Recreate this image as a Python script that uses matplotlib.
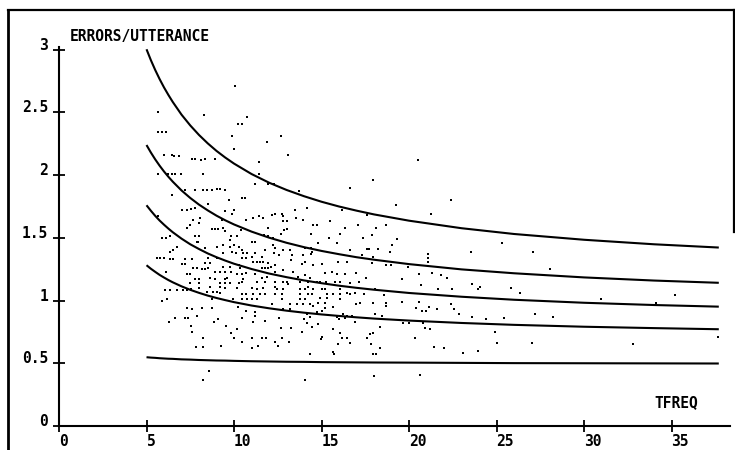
import numpy as np
import matplotlib
matplotlib.use("Agg")
import matplotlib.pyplot as plt
from matplotlib.lines import Line2D

# ---------------- data ----------------
x_ticks = [0, 5, 10, 15, 20, 25, 30, 35]
x_tick_labels = ["0", "5", "10", "15", "20", "25", "30", "35"]
y_ticks = [0, 0.5, 1, 1.5, 2, 2.5, 3]
y_tick_labels = ["0", "0.5", "1", "1.5", "2", "2.5", "3"]

curve_x = [5, 5.25, 5.5, 5.75, 6, 6.25, 6.5, 7, 7.5, 8, 8.5, 9, 9.5, 10, 11, 12, 13, 14,
           15, 16, 17, 18, 20, 23, 26, 30, 34, 37.7]
curve_1 = [3.002, 2.915, 2.836, 2.764, 2.698, 2.638, 2.582, 2.481, 2.395, 2.319, 2.252, 2.192, 2.139, 2.091,
           2.008, 1.939, 1.881, 1.831, 1.787, 1.749, 1.716, 1.686, 1.636, 1.576, 1.530, 1.484, 1.448, 1.422]
curve_2 = [2.239, 2.179, 2.124, 2.074, 2.028, 1.986, 1.947, 1.877, 1.817, 1.764, 1.718, 1.676, 1.639, 1.606,
           1.549, 1.501, 1.460, 1.425, 1.395, 1.369, 1.345, 1.325, 1.290, 1.248, 1.217, 1.184, 1.159, 1.141]
curve_3 = [1.759, 1.715, 1.674, 1.637, 1.604, 1.573, 1.544, 1.493, 1.448, 1.410, 1.375, 1.345, 1.318, 1.293,
           1.251, 1.215, 1.186, 1.160, 1.138, 1.118, 1.101, 1.086, 1.060, 1.030, 1.006, 0.982, 0.964, 0.951]
curve_4 = [1.281, 1.253, 1.228, 1.204, 1.183, 1.163, 1.145, 1.113, 1.085, 1.061, 1.039, 1.020, 1.003, 0.987,
           0.960, 0.938, 0.919, 0.903, 0.889, 0.877, 0.866, 0.856, 0.840, 0.821, 0.806, 0.791, 0.780, 0.771]
curve_5 = [0.548, 0.545, 0.543, 0.540, 0.538, 0.536, 0.535, 0.531, 0.529, 0.526, 0.524, 0.522, 0.521, 0.519,
           0.516, 0.514, 0.512, 0.511, 0.509, 0.508, 0.507, 0.506, 0.505, 0.503, 0.501, 0.500, 0.499, 0.498]

scatter_points = [
    (10.06, 2.71),
    (5.67, 2.50), (8.29, 2.48), (10.72, 2.46), (10.21, 2.41), (10.44, 2.41), (5.67, 2.34), (5.87, 2.34),
    (6.11, 2.34), (9.87, 2.31), (12.67, 2.31), (11.87, 2.26), (10.02, 2.21), (13.07, 2.16), (6.0, 2.16),
    (6.47, 2.16), (6.57, 2.15), (6.87, 2.15), (7.58, 2.13), (7.77, 2.13), (8.11, 2.12), (8.34, 2.13),
    (8.91, 2.13), (11.45, 2.10), (11.45, 2.01), (5.67, 2.01), (6.25, 2.01), (6.44, 2.01), (6.63, 2.01),
    (6.95, 2.01), (8.21, 2.01), (11.2, 1.93), (11.92, 1.93), (12.29, 1.93),
    # right part
    (20.53, 2.12), (17.96, 1.96), (16.6, 1.90), (22.4, 1.80), (19.26, 1.76), (21.27, 1.69), (17.58, 1.68),
    (17.1, 1.60), (18.11, 1.58), (18.66, 1.60), (17.39, 1.50), (17.9, 1.52), (19.3, 1.49), (19.03, 1.44),
    (25.31, 1.46), (17.58, 1.41), (17.73, 1.41), (18.25, 1.41), (18.93, 1.39), (23.56, 1.39), (27.09, 1.39),
    (17.31, 1.36), (17.96, 1.35), (21.07, 1.37), (21.07, 1.34), (21.1, 1.31), (17.9, 1.30), (18.7, 1.28),
    (18.99, 1.28), (19.92, 1.27), (28.07, 1.25), (20.57, 1.21), (21.31, 1.22), (21.81, 1.20), (22.15, 1.18),
    (16.95, 1.22), (17.54, 1.18), (16.63, 1.14), (17.16, 1.15), (19.58, 1.17), (23.6, 1.13), (23.94, 1.09),
    (24.06, 1.11), (25.85, 1.10), (26.34, 1.06), (18.06, 1.09), (18.57, 1.04), (20.69, 1.12), (21.66, 1.09),
    (22.47, 1.09), (17.45, 1.05), (30.99, 1.01), (35.22, 1.04), (34.11, 0.98), (16.97, 0.97), (17.2, 0.98),
    (17.96, 0.98), (18.69, 0.98), (18.69, 0.96), (19.58, 0.99), (20.59, 0.99), (20.4, 0.94), (20.73, 0.92),
    (20.97, 0.92), (21.16, 0.95), (21.58, 0.93), (22.4, 0.97), (22.59, 0.93), (22.87, 0.89), (23.58, 0.87),
    (24.4, 0.85), (25.43, 0.86), (27.22, 0.89), (28.25, 0.87), (18.06, 0.89), (18.47, 0.88), (16.91, 0.83),
    (19.68, 0.82), (20.0, 0.82), (20.78, 0.82), (18.34, 0.79), (17.96, 0.74), (17.77, 0.73), (17.58, 0.70),
    (20.91, 0.78), (21.2, 0.77), (24.93, 0.75), (20.34, 0.70), (37.68, 0.71), (16.63, 0.66), (17.83, 0.65),
    (18.34, 0.62), (17.92, 0.57), (18.11, 0.57), (21.45, 0.63), (22.0, 0.62), (23.07, 0.58), (23.96, 0.60),
    (25.01, 0.66), (27.01, 0.66), (32.82, 0.65), (18.02, 0.40), (20.65, 0.41),
    # left dense block (upper)
    (7.2, 1.88), (7.77, 1.88), (8.25, 1.88), (8.44, 1.88), (8.72, 1.88), (9.0, 1.89), (9.2, 1.89), (9.49, 1.88),
    (6.44, 1.84), (9.73, 1.80), (10.44, 1.82), (10.63, 1.82), (8.53, 1.77), (7.01, 1.72), (7.3, 1.72),
    (7.52, 1.73), (7.77, 1.74), (9.49, 1.71), (10.0, 1.72), (9.87, 1.69), (5.67, 1.67), (7.67, 1.64),
    (8.06, 1.66), (8.02, 1.62), (9.3, 1.64), (10.69, 1.64), (7.49, 1.60), (7.3, 1.58), (8.72, 1.57),
    (8.91, 1.57), (9.1, 1.57), (9.35, 1.58), (9.49, 1.55), (9.83, 1.51), (10.15, 1.51), (10.38, 1.56),
    (7.77, 1.51), (8.02, 1.51), (5.87, 1.50), (6.11, 1.50), (6.34, 1.51), (7.87, 1.47), (7.96, 1.47),
    (9.01, 1.43), (9.35, 1.44), (9.77, 1.48), (9.77, 1.43), (10.0, 1.44), (10.29, 1.43), (10.44, 1.40),
    (6.76, 1.43), (6.53, 1.40), (8.34, 1.42), (6.34, 1.39), (9.35, 1.38), (9.87, 1.39), (10.11, 1.38),
    (10.53, 1.38), (10.76, 1.38), (5.58, 1.34), (5.77, 1.34), (6.0, 1.34), (6.34, 1.33), (6.53, 1.33),
    (7.2, 1.33), (7.58, 1.33), (8.53, 1.34), (9.01, 1.34), (10.44, 1.34), (10.69, 1.34), (7.01, 1.29),
    (7.2, 1.29), (8.34, 1.30), (8.63, 1.30), (9.39, 1.27), (9.77, 1.27), (10.3, 1.28), (10.34, 1.26),
    (7.63, 1.26), (7.87, 1.26), (8.15, 1.25), (8.34, 1.25), (8.53, 1.26), (8.91, 1.23), (9.2, 1.23),
    (9.49, 1.23), (9.81, 1.23), (6.11, 1.23), (7.3, 1.21), (7.49, 1.21), (10.15, 1.21), (10.44, 1.21),
    (10.69, 1.22), (7.77, 1.17), (8.02, 1.17), (8.63, 1.18), (8.91, 1.17), (9.49, 1.17), (9.62, 1.18),
    (10.53, 1.17), (7.49, 1.14), (8.02, 1.14), (9.2, 1.14), (9.49, 1.14), (9.77, 1.14), (10.3, 1.14),
    (10.44, 1.15),
    # middle dense block (upper)
    (13.73, 1.87), (14.15, 1.74), (13.49, 1.72), (16.15, 1.72), (11.1, 1.66), (11.45, 1.67), (11.64, 1.66),
    (12.15, 1.68), (12.34, 1.69), (12.72, 1.69), (12.82, 1.67), (13.54, 1.66), (13.96, 1.64), (15.49, 1.63),
    (12.78, 1.63), (13.01, 1.63), (11.92, 1.58), (14.53, 1.60), (14.72, 1.60), (16.34, 1.58), (12.86, 1.56),
    (13.01, 1.57), (12.67, 1.53), (14.38, 1.53), (16.06, 1.53), (15.43, 1.50), (11.73, 1.52), (11.92, 1.51),
    (12.21, 1.50), (14.82, 1.46), (15.87, 1.46), (11.01, 1.47), (11.2, 1.47), (12.25, 1.44), (12.34, 1.42),
    (11.77, 1.40), (12.82, 1.40), (13.2, 1.40), (14.06, 1.42), (14.4, 1.42), (14.44, 1.39), (14.4, 1.37),
    (16.63, 1.40), (11.2, 1.38), (11.58, 1.35), (11.01, 1.35), (12.29, 1.38), (12.59, 1.36), (13.3, 1.36),
    (13.96, 1.36), (15.96, 1.31), (16.44, 1.31), (11.1, 1.31), (11.3, 1.31), (11.49, 1.31), (11.67, 1.31),
    (11.96, 1.30), (12.1, 1.27), (12.34, 1.28), (13.24, 1.32), (13.87, 1.29), (14.06, 1.31), (14.53, 1.28),
    (15.01, 1.29), (11.58, 1.26), (11.77, 1.26), (11.96, 1.26), (12.34, 1.23), (12.82, 1.24), (13.39, 1.23),
    (15.2, 1.22), (15.58, 1.23), (15.9, 1.21), (16.34, 1.21), (11.2, 1.21), (11.58, 1.18), (11.87, 1.19),
    (13.67, 1.19), (14.06, 1.20), (14.34, 1.18), (11.3, 1.15), (11.77, 1.15), (12.34, 1.15), (12.82, 1.15),
    (13.01, 1.15), (13.77, 1.15), (14.25, 1.15), (14.72, 1.15), (14.91, 1.15), (15.26, 1.15), (15.77, 1.15),
    (16.06, 1.15),
    # left block (lower)
    (6.06, 1.08), (6.34, 1.08), (6.72, 1.08), (7.07, 1.08), (7.33, 1.08), (7.52, 1.09), (8.02, 1.10),
    (8.44, 1.07), (8.63, 1.11), (8.78, 1.07), (9.01, 1.07), (9.2, 1.06), (9.49, 1.10), (9.2, 1.11),
    (10.15, 1.10), (10.44, 1.05), (10.69, 1.05), (5.87, 1.00), (6.15, 1.01), (8.72, 1.01), (9.96, 1.01),
    (10.44, 1.01), (10.72, 1.01), (10.25, 0.95), (7.3, 0.94), (7.62, 0.93), (8.19, 0.94), (8.76, 0.94),
    (10.69, 0.92), (6.63, 0.86), (7.2, 0.86), (7.39, 0.86), (6.3, 0.83), (7.9, 0.88), (9.1, 0.85),
    (8.86, 0.83), (10.44, 0.86), (7.52, 0.80), (9.54, 0.80), (7.58, 0.75), (10.19, 0.77), (9.81, 0.74),
    (8.25, 0.70), (10.02, 0.70), (10.44, 0.67), (7.83, 0.63), (8.21, 0.63), (9.26, 0.64), (8.57, 0.44),
    (8.21, 0.37),
    # middle block (lower)
    (11.01, 1.10), (11.3, 1.09), (11.64, 1.10), (12.34, 1.11), (12.48, 1.09), (12.82, 1.09), (13.1, 1.13),
    (13.77, 1.09), (14.06, 1.09), (14.25, 1.11), (14.53, 1.09), (15.01, 1.09), (15.2, 1.09), (16.06, 1.09),
    (11.1, 1.05), (11.49, 1.05), (11.77, 1.05), (12.34, 1.05), (12.72, 1.05), (13.77, 1.05), (14.25, 1.05),
    (14.44, 1.05), (15.3, 1.05), (15.67, 1.05), (16.06, 1.05), (16.44, 1.06), (16.63, 1.05), (16.91, 1.06),
    (11.01, 1.01), (11.3, 1.01), (12.72, 1.01), (13.77, 1.01), (14.06, 1.01), (14.91, 1.02), (15.3, 1.02),
    (14.82, 0.98), (15.2, 0.98), (16.06, 1.01), (12.15, 0.97), (13.2, 0.97), (13.58, 0.97), (13.96, 0.97),
    (14.34, 0.97), (14.53, 0.96), (14.72, 0.91), (15.01, 0.92), (15.2, 0.94), (15.67, 0.95), (11.2, 0.91),
    (11.2, 0.88), (12.82, 0.93), (13.2, 0.93), (12.59, 0.86), (14.15, 0.89), (14.34, 0.87), (15.87, 0.87),
    (16.2, 0.89), (16.44, 0.88), (16.72, 0.88), (11.1, 0.83), (11.77, 0.84), (14.0, 0.85), (14.15, 0.82),
    (14.44, 0.79), (14.82, 0.81), (16.02, 0.85), (16.34, 0.86), (12.69, 0.78), (13.26, 0.78), (13.87, 0.75),
    (15.67, 0.77), (16.06, 0.74), (11.01, 0.70), (11.58, 0.70), (11.83, 0.70), (12.72, 0.70), (15.01, 0.71),
    (14.95, 0.69), (16.15, 0.70), (16.44, 0.70), (12.34, 0.67), (12.53, 0.64), (13.16, 0.67), (11.39, 0.64),
    (11.01, 0.62), (15.96, 0.65), (14.34, 0.57), (15.64, 0.59), (15.71, 0.57), (14.06, 0.37),
]

# ---------------- drawing ----------------
FONT = "DejaVu Sans Mono"
W, H = 735, 450
fig = plt.figure(figsize=(W / 100, H / 100), dpi=100)
fig.patch.set_facecolor("white")

ax = fig.add_axes([59 / W, 24 / H, (730 - 59) / W, (426 - 47) / H])
ax.set_xlim(0, 38.34)
ax.set_ylim(0, 3.02)
ax.set_facecolor("white")
for s in ("top", "right"):
    ax.spines[s].set_visible(False)
for s in ("left", "bottom"):
    ax.spines[s].set_linewidth(1.5)
    ax.spines[s].set_color("black")

pts = np.array(scatter_points)
ax.scatter(pts[:, 0], pts[:, 1], s=4, marker="s", c="black", linewidths=0, zorder=3)

for cy in (curve_1, curve_2, curve_3, curve_4, curve_5):
    ax.plot(curve_x, cy, color="black", lw=1.5, solid_capstyle="butt",
            solid_joinstyle="round", zorder=2)

ax.set_xticks(x_ticks)
ax.set_xticklabels(x_tick_labels, fontfamily=FONT, fontweight="bold", fontsize=10.5, ha="left")
ax.set_yticks(y_ticks)
ax.set_yticklabels(y_tick_labels, fontfamily=FONT, fontweight="bold", fontsize=10.5, va="baseline")
ax.tick_params(axis="both", direction="inout", length=8, width=1.3, color="black")
ax.tick_params(axis="x", pad=2)
ax.tick_params(axis="y", pad=4)

fig.text(70 / W, 1 - 36 / H, "ERRORS/UTTERANCE", ha="left", va="center",
         fontfamily=FONT, fontweight="bold", fontsize=10.5)
fig.text(676 / W, 1 - 402.5 / H, "TFREQ", ha="center", va="center",
         fontfamily=FONT, fontweight="bold", fontsize=10.5)

# scanned page frame
fig.add_artist(Line2D([8 / W, 8 / W], [0, 1 - 10 / H], transform=fig.transFigure, color="black", lw=2))
fig.add_artist(Line2D([8 / W, 734 / W], [1 - 10 / H, 1 - 10 / H], transform=fig.transFigure, color="black", lw=1.6))
fig.add_artist(Line2D([734 / W, 734 / W], [1 - 10 / H, 1 - 232 / H], transform=fig.transFigure, color="black", lw=1.6))

fig.savefig("out.png", dpi=100, facecolor="white")
